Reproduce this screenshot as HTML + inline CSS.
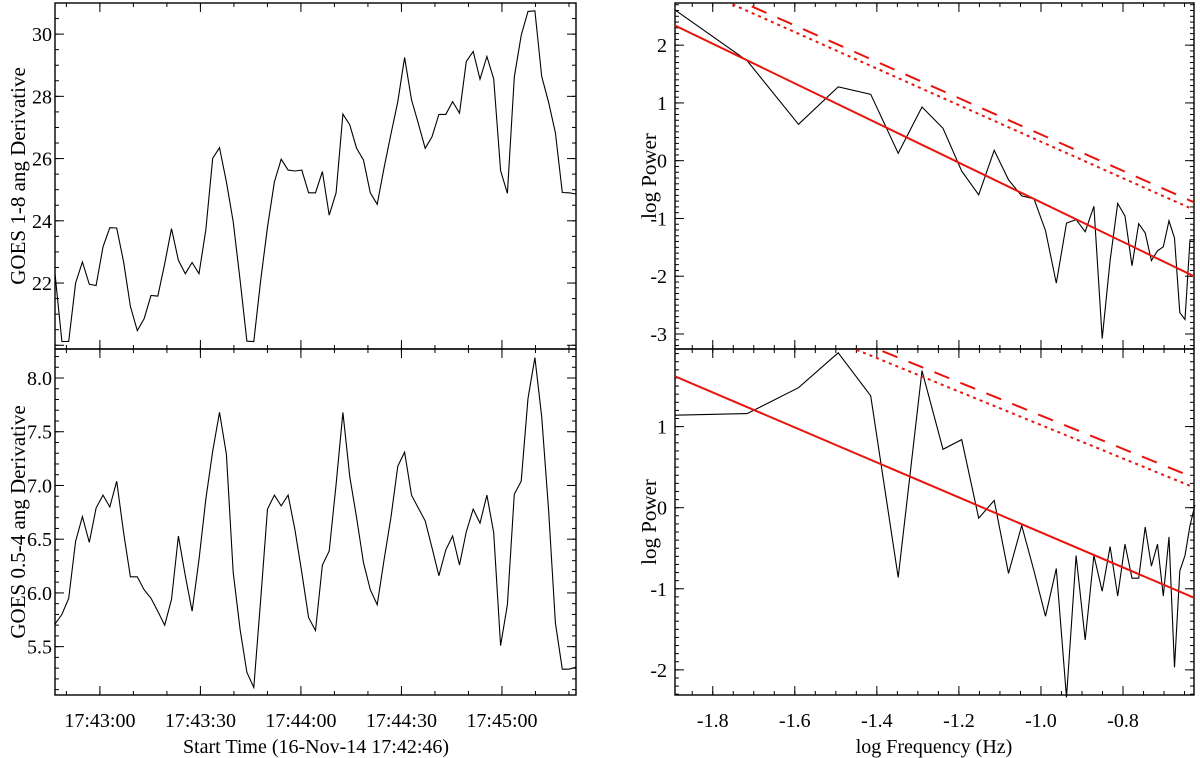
<!DOCTYPE html>
<html><head><meta charset="utf-8"><style>
html,body{margin:0;padding:0;background:#fff;}
svg{display:block;font-family:"Liberation Serif",serif;}
</style></head><body>
<svg id="fig" width="1200" height="758" viewBox="0 0 1200 758" xmlns="http://www.w3.org/2000/svg"></svg>
<script>
// ---- data ----
const goes18 = [22.30,20.12,20.12,22.0,22.68,21.96,21.92,23.16,23.78,23.77,22.68,21.25,20.47,20.85,21.60,21.58,22.62,23.75,22.73,22.30,22.66,22.30,23.70,26.01,26.35,25.25,23.97,22.09,20.13,20.12,22.09,23.80,25.25,25.98,25.63,25.60,25.63,24.90,24.90,25.58,24.18,24.90,27.43,27.08,26.33,25.95,24.90,24.53,25.71,26.78,27.83,29.25,27.89,27.13,26.33,26.70,27.42,27.42,27.83,27.46,29.12,29.44,28.55,29.28,28.56,25.61,24.88,28.62,29.96,30.73,30.75,28.64,27.81,26.83,24.91,24.90,24.86];
const goes054 = [5.71,5.80,5.95,6.48,6.71,6.47,6.79,6.91,6.80,7.04,6.56,6.15,6.15,6.03,5.95,5.83,5.70,5.94,6.53,6.16,5.83,6.31,6.87,7.32,7.68,7.29,6.19,5.66,5.26,5.12,5.94,6.78,6.91,6.81,6.91,6.59,6.19,5.77,5.65,6.26,6.39,7.01,7.68,7.08,6.70,6.28,6.03,5.89,6.31,6.70,7.18,7.31,6.91,6.79,6.67,6.42,6.16,6.40,6.53,6.26,6.57,6.78,6.65,6.91,6.56,5.51,5.89,6.92,7.04,7.81,8.19,7.64,6.77,5.72,5.29,5.29,5.31];
const freqIndex = [2,3,4,5,6,7,8,9,10,11,12,13,14,15,16,17,18,19,20,21,22,23,24,25,26,27,28,29,30,31,32,33,34,35,36,37];
const powerTop = [2.61,1.73,0.63,1.28,1.15,0.13,0.93,0.56,-0.18,-0.59,0.18,-0.33,-0.61,-0.66,-1.21,-2.12,-1.08,-1.02,-1.23,-0.79,-3.08,-1.73,-0.74,-0.96,-1.82,-1.09,-1.25,-1.73,-1.56,-1.49,-1.04,-1.34,-2.63,-2.75,-1.37,-1.37];
const powerBot = [1.14,1.16,1.48,1.91,1.38,-0.86,1.69,0.72,0.84,-0.13,0.09,-0.81,-0.22,-0.78,-1.34,-0.75,-2.34,-0.59,-1.63,-0.59,-1.03,-0.48,-1.09,-0.45,-0.87,-0.87,-0.24,-0.72,-0.45,-1.09,-0.36,-1.97,-0.78,-0.59,-0.22,0.03];
// fit lines: [value at logf=-1.892, value at logf=-0.627]
const fitTop = [2.34,-2.00], sig1Top = [3.26,-0.72], sig2Top = [3.15,-0.85];
const fitBot = [1.62,-1.11], sig1Bot = [2.97,0.37], sig2Bot = [2.86,0.25];
const timeTickLabels = ["17:43:00","17:43:30","17:44:00","17:44:30","17:45:00"];
const timeTickSecs = [0,30,60,90,120];
const freqTicks = [-1.8,-1.6,-1.4,-1.2,-1.0,-0.8];
const T = 156;

const NS="http://www.w3.org/2000/svg";
const svg=document.getElementById('fig');
function mk(tag,attrs,parent){const e=document.createElementNS(NS,tag);for(const k in attrs)e.setAttribute(k,attrs[k]);(parent||svg).appendChild(e);return e;}
function lin(d0,d1,r0,r1){return v=>r0+(v-d0)*(r1-r0)/(d1-d0);}

function panel(name,x0,x1,y0,y1,xd,yd,xMaj,xMin,yMaj,yMin){
  const g=mk('g',{});
  
  
  const sx=lin(xd[0],xd[1],x0,x1), sy=lin(yd[0],yd[1],y1,y0);
  const eps=1e-6;
  function ticksX(step,len){const s=Math.ceil((xd[0]-eps)/step);for(let i=s;i*step<=xd[1]+eps;i++){const x=sx(i*step);mk('line',{x1:x,x2:x,y1:y1,y2:y1-len,stroke:'#000','stroke-width':1},g);mk('line',{x1:x,x2:x,y1:y0,y2:y0+len,stroke:'#000','stroke-width':1},g);}}
  function ticksY(step,len){const s=Math.ceil((yd[0]-eps)/step);for(let i=s;i*step<=yd[1]+eps;i++){const y=sy(i*step);mk('line',{x1:x0,x2:x0+len,y1:y,y2:y,stroke:'#000','stroke-width':1},g);mk('line',{x1:x1,x2:x1-len,y1:y,y2:y,stroke:'#000','stroke-width':1},g);}}
  ticksX(xMin,4);ticksX(xMaj,9);ticksY(yMin,4);ticksY(yMaj,9);
  mk('rect',{x:x0,y:y0,width:x1-x0,height:y1-y0,fill:'none',stroke:'#000','stroke-width':1.4},g);
  return {g,sx,sy};
}
function poly(p,xs,ys,name,color,w,dash){
  const pts=xs.map((x,i)=>p.sx(x).toFixed(1)+','+p.sy(ys[i]).toFixed(1)).join(' ');
  const a={points:pts,fill:'none',stroke:color,'stroke-width':w};
  if(dash)a['stroke-dasharray']=dash;
  const e=mk('polyline',a,p.g);
  
  
}
const clip=mk('defs',{});
function clipRect(id,x,y,w,h){const c=mk('clipPath',{id},clip);mk('rect',{x,y,width:w,height:h},c);}
function label(x,y,txt,size,anchor,name,transform){
  const a={x,y,'text-anchor':anchor,'font-size':size};
  if(transform)a.transform=transform;
  const t=mk('text',a);t.textContent=txt;
  
  
  return t;
}

// ---- left panels ----
const LX0=55,LX1=576;
const tDom=[-13.4,142.1];
const tA=goes18.map((v,i)=>tDom[0]+i*(tDom[1]-tDom[0])/(goes18.length-1));
const tB=goes054.map((v,i)=>tDom[0]+i*(tDom[1]-tDom[0])/(goes054.length-1));
const pA=panel('goes-1-8-panel',LX0,LX1,3,349,tDom,[19.88,31.0],30,10,2,0.5);
const pB=panel('goes-0.5-4-panel',LX0,LX1,349,695,tDom,[5.05,8.27],30,10,0.5,0.1);
poly(pA,tA,goes18,'goes-1-8-derivative-line','#000',1.1);
poly(pB,tB,goes054,'goes-0.5-4-derivative-line','#000',1.1);
[22,24,26,28,30].forEach(v=>label(LX0-3,pA.sy(v)+7,String(v),20,'end','y-tick-label'));
[5.5,6.0,6.5,7.0,7.5,8.0].forEach(v=>label(LX0-3,pB.sy(v)+7,v.toFixed(1),20,'end','y-tick-label'));
timeTickSecs.forEach((s,i)=>label(pB.sx(s),727,timeTickLabels[i],20,'middle','x-tick-label'));
label(316,753,'Start Time (16-Nov-14 17:42:46)',20,'middle','x-axis-title');
label(0,0,'GOES 1-8 ang Derivative',21,'middle','y-axis-title-top','translate(25,176) rotate(-90)');
label(0,0,'GOES 0.5-4 ang Derivative',21,'middle','y-axis-title-bottom','translate(25,522) rotate(-90)');

// ---- right panels ----
const RX0=675,RX1=1194, fDom=[-1.892,-0.627];
const pC=panel('power-spectrum-top',RX0,RX1,3,349,fDom,[-3.26,2.73],0.2,0.05,1,0.1);
const pD=panel('power-spectrum-bottom',RX0,RX1,349,695,fDom,[-2.31,1.957],0.2,0.05,1,0.1);
clipRect('cC',RX0,3,RX1-RX0,346);clipRect('cD',RX0,349,RX1-RX0,346);
const logf=freqIndex.map(k=>Math.log10(k/T));
function fitLine(p,vals,name,w,dash,clipId){
  const e=mk('line',{x1:p.sx(fDom[0]),y1:p.sy(vals[0]),x2:p.sx(fDom[1]),y2:p.sy(vals[1]),stroke:'#e8140e','stroke-width':w,'clip-path':'url(#'+clipId+')'},p.g);
  if(dash)e.setAttribute('stroke-dasharray',dash);
  
  
}
poly(pC,logf,powerTop,'power-spectrum-top-line','#000',1.1);
fitLine(pC,fitTop,'power-law-fit-top',2,null,'cC');
fitLine(pC,sig1Top,'confidence-dashed-top',2,'16,12','cC');
fitLine(pC,sig2Top,'confidence-dotted-top',2,'3,4','cC');
poly(pD,logf,powerBot,'power-spectrum-bottom-line','#000',1.1);
fitLine(pD,fitBot,'power-law-fit-bottom',2,null,'cD');
fitLine(pD,sig1Bot,'confidence-dashed-bottom',2,'16,12','cD');
fitLine(pD,sig2Bot,'confidence-dotted-bottom',2,'3,4','cD');
[2,1,0,-1,-2,-3].forEach(v=>label(RX0-8,pC.sy(v)+7,String(v),20,'end','y-tick-label'));
[1,0,-1,-2].forEach(v=>label(RX0-8,pD.sy(v)+7,String(v),20,'end','y-tick-label'));
freqTicks.forEach(v=>label(pD.sx(v),727,v.toFixed(1),20,'middle','x-tick-label'));
label(934,753,'log Frequency (Hz)',20,'middle','x-axis-title-frequency');
label(0,0,'log Power',21,'middle','y-axis-title-power-top','translate(656,176) rotate(-90)');
label(0,0,'log Power',21,'middle','y-axis-title-power-bottom','translate(656,522) rotate(-90)');
</script>
</body></html>
